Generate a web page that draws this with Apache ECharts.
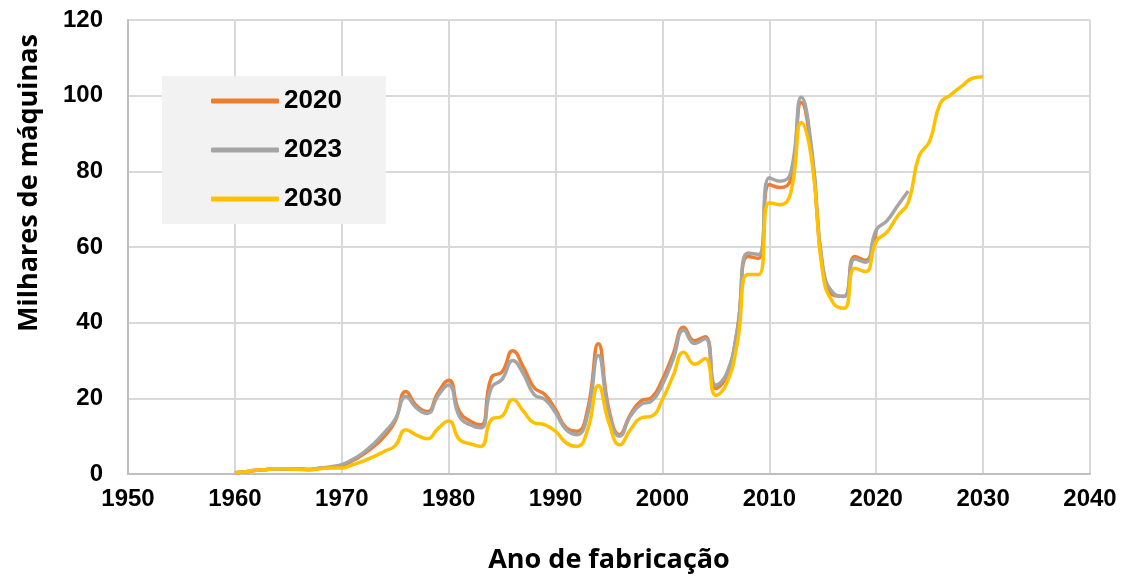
<!DOCTYPE html>
<html>
<head>
<meta charset="utf-8">
<script src="https://cdn.jsdelivr.net/npm/echarts@6/dist/echarts.min.js"></script>
<style>
  html, body { margin: 0; padding: 0; background: #fff; }
  #chart { width: 1130px; height: 579px; }
</style>
</head>
<body>
<div id="chart"></div>
<script>
// anos de fabricação (1960..2030)
var years = [];
for (var y = 1960; y <= 2030; y++) years.push(y);

var serie2020 = [0.3, 0.6, 1.0, 1.2, 1.4, 1.3, 1.3, 1.2, 1.5, 1.8,
  2.3, 3.5, 5.2, 7.3, 10, 14, 21.8, 18, 16.5, 21.5,
  24.8, 16.5, 14, 13, 25.5, 27, 32.6, 28.2, 22.8, 21,
  17, 12.2, 11.3, 17, 34.4, 17, 10.4, 15.7, 19.3, 20.2,
  25, 31.7, 38.8, 35.2, 36.3, 22.6, 26, 38, 57.5, 57,
  76.5, 75.7, 77.9, 98.2, 84, 54, 47.3, 47, 57.5, 56.5,
  64.5];

var serie2023 = [0.3, 0.6, 1.0, 1.2, 1.4, 1.3, 1.3, 1.2, 1.6, 1.9,
  2.5, 3.8, 5.6, 8.0, 11, 14.5, 20.5, 17.4, 16, 20.7,
  23.5, 15.2, 13, 12.2, 22.8, 25, 30, 26.4, 21, 19.7,
  16.2, 11.7, 10.4, 15.7, 31.3, 16.2, 10, 15.3, 18.4, 19.3,
  23.7, 30.4, 38, 34.5, 35.8, 23.5, 26.5, 38, 58.4, 58,
  78.3, 77.4, 79.6, 99.6, 85, 54.9, 47.8, 46.9, 56.8, 56,
  64.5, 66.9, 70.9, 74.8];

var serie2030 = [0.3, 0.6, 1.0, 1.2, 1.4, 1.3, 1.2, 1.1, 1.4, 1.6,
  1.6, 2.4, 3.4, 4.6, 6, 7.5, 11.7, 10.3, 9.3, 12,
  14, 9.1, 8, 7.3, 14.4, 15.3, 19.7, 16.6, 13.5, 13,
  11.3, 8.2, 7.3, 11.7, 23.3, 13.5, 7.7, 11.7, 14.8, 15.3,
  19.7, 26, 32.2, 29, 30.5, 20.8, 23.9, 34.5, 52.7, 52.7,
  71.7, 71.2, 74.3, 92.9, 82.3, 53, 45.1, 43.8, 54.4, 53.5,
  61.5, 63.9, 68.2, 71.8, 84, 88, 98, 100.3, 102.5, 104.6,
  105];

var seriesNames = ['2020', '2023', '2030'];
var seriesColors = ['#ED7D31', '#A5A5A5', '#FFC000'];

function pares(vals) {
  return vals.map(function (v, i) { return [years[i], v]; });
}

var FONT = 'Liberation Sans';
var FONT_TITULO = 'Open Sans';

var chart = echarts.init(document.getElementById('chart'));
var option = {
  backgroundColor: '#fff',
  animation: false,
  grid: { left: 128, right: 40, top: 20, bottom: 103 },
  legend: {
    data: seriesNames,
    orient: 'vertical',
    left: 162,
    top: 76,
    backgroundColor: '#F2F2F2',
    padding: [10, 44, 10, 49],
    itemGap: 19,
    itemWidth: 68,
    itemHeight: 5,
    icon: 'roundRect',
    textStyle: { fontFamily: FONT, fontSize: 26, fontWeight: 'bold', color: '#000', lineHeight: 30 }
  },
  xAxis: {
    type: 'value',
    min: 1950,
    max: 2040,
    interval: 10,
    name: 'Ano de fabricação',
    nameLocation: 'middle',
    nameGap: 73,
    nameTextStyle: { fontFamily: FONT_TITULO, fontSize: 27, fontWeight: 'bold', color: '#000' },
    axisLine: { lineStyle: { color: '#BFBFBF', width: 2 } },
    axisTick: { show: false },
    axisLabel: {
      fontFamily: FONT, fontSize: 24, fontWeight: 'bold', color: '#000', margin: 13,
      formatter: function (v) { return String(v); }
    },
    splitLine: { show: true, lineStyle: { color: '#D9D9D9', width: 2 } }
  },
  yAxis: {
    type: 'value',
    min: 0,
    max: 120,
    interval: 20,
    axisLine: { show: true, lineStyle: { color: '#BFBFBF', width: 2 } },
    axisTick: { show: false },
    axisLabel: { fontFamily: FONT, fontSize: 24, fontWeight: 'bold', color: '#000', margin: 25 },
    splitLine: { show: true, lineStyle: { color: '#D9D9D9', width: 2 } }
  },
  graphic: [{
    type: 'text',
    x: 29,
    y: 183,
    rotation: Math.PI / 2,
    style: {
      text: 'Milhares de máquinas',
      fontFamily: FONT_TITULO, fontSize: 27, fontWeight: 'bold', fill: '#000',
      align: 'center', verticalAlign: 'middle'
    }
  }],
  series: [serie2020, serie2023, serie2030].map(function (vals, i) {
    return {
      name: seriesNames[i],
      type: 'line',
      data: pares(vals),
      smooth: 0.5,
      showSymbol: false,
      symbol: 'none',
      lineStyle: { color: seriesColors[i], width: 3.5 },
      itemStyle: { color: seriesColors[i] }
    };
  })
};
chart.setOption(option);
</script>
</body>
</html>
